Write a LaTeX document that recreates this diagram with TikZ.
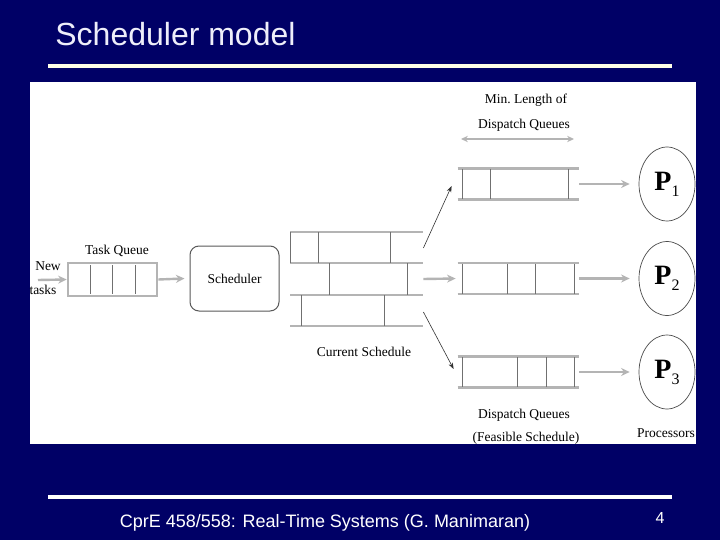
\documentclass[tikz,border=0pt]{standalone}
\usepackage{fontspec}
\setmainfont{Liberation Serif}
\setsansfont{Liberation Sans}
\usetikzlibrary{arrows.meta,shapes.geometric}
\definecolor{slidebg}{HTML}{000066}
\definecolor{titlefg}{HTML}{EEEEFA}
\definecolor{rulecream}{HTML}{FFFFE8}
\definecolor{qgray}{HTML}{B4B4B4}
\definecolor{qdark}{HTML}{707070}
\newcommand{\procname}[1]{\fontsize{28}{28}\selectfont\textbf{P}\raisebox{-6pt}{\fontsize{16}{16}\selectfont #1}}
\tikzset{
  qline/.style={line width=2.6pt,qgray},
  qdiv/.style={line width=1pt,qdark},
  qbox/.style={rectangle,draw=qgray,line width=2.6pt,inner sep=0pt},
  qarea/.style={rectangle,draw=none,inner sep=0pt},
  garrow/.style={line width=2.4pt,qgray,-{Stealth[length=3mm,width=2.8mm]}},
  karrow/.style={line width=0.6pt,black!80,-{Stealth[length=2.2mm,width=1.6mm]}},
  lbl/.style={font=\fontsize{13.5}{14}\selectfont,inner sep=0pt},
  proc/.style={ellipse,draw=black!70,line width=0.7pt,minimum width=56pt,minimum height=74pt,inner sep=0pt},
}
\begin{document}
\begin{tikzpicture}[x=1pt,y=-1pt,line width=0.8pt,>=Stealth]
% slide
\fill[slidebg] (0,0) rectangle (720,540);
\useasboundingbox (0,0) rectangle (720,540);
\node[anchor=base west,font=\sffamily\fontsize{32}{32}\selectfont,text=titlefg,inner sep=0pt] (title) at (55,46) {Scheduler model};
\draw[rulecream,line width=4pt] (48,66) -- (672,66);
\draw[white,line width=4pt] (48,497) -- (672,497);
\node[anchor=base,font=\sffamily\fontsize{18}{18}\selectfont,text=white,inner sep=0pt] (foot) at (325,527) {CprE 458/558: Real-Time Systems (G. Manimaran)};
\node[anchor=base,font=\sffamily\fontsize{16}{16}\selectfont,text=white,inner sep=0pt] (pageno) at (660,523) {4};
% figure panel
\fill[white] (30,82) rectangle (696,444);
% new tasks and task queue
\node[lbl] (newlbl) at (48,266) {New};
\node[lbl] (tasklbl) at (43,290) {tasks};
\coordinate (newin) at (38,280);
\node[qbox,minimum width=89pt,minimum height=33pt] (tq) at (112.5,279.5) {};
\foreach \x in {90,112,135}
  \draw[qdiv] (\x,265) -- (\x,294);
\node[lbl] (tqlbl) at (117,251) {Task Queue};
\draw[garrow] (newin) -- (tq.west);
% scheduler
\node[draw=black!65,rounded corners=9pt,line width=1pt,minimum width=89pt,minimum height=65pt,lbl] (sch) at (234.5,278.5) {Scheduler};
\draw[garrow] (tq.east) -- ([xshift=-5pt]sch.west);
% current schedule
\node[qarea,minimum width=133pt,minimum height=94pt] (cs) at (356.5,279) {};
\foreach \y in {232,263,295,326}
  \draw[qline] (290,\y) -- (423,\y);
\foreach \x in {290,318,390}
  \draw[qdiv] (\x,232) -- (\x,263);
\foreach \x in {329,407}
  \draw[qdiv] (\x,263) -- (\x,295);
\foreach \x in {301,384}
  \draw[qdiv] (\x,295) -- (\x,326);
\node[lbl] (cslbl) at (364,352) {Current Schedule};
% dispatch queues and processors
\foreach \i/\y/\divs in {1/184/{462,490,568},2/278.5/{462,507,535,574},3/372/{462,517,546,574}}{
  \node[qarea,minimum width=121pt,minimum height=30pt] (dq\i) at (518.5,\y) {};
  \draw[qline] (dq\i.north west) -- (dq\i.north east);
  \draw[qline] (dq\i.south west) -- (dq\i.south east);
  \foreach \x in \divs
    \draw[qdiv] (\x,{\y-15}) -- (\x,{\y+15});
  \node[proc] (p\i) at (667,\y) {\procname{\i}};
  \draw[garrow] (dq\i.east) -- ([xshift=-9pt]p\i.west);
}
\draw[karrow] ([yshift=31pt]cs.east) -- ([xshift=-6pt,yshift=-2pt]dq1.west);
\draw[garrow] (cs.east) -- ([xshift=-2pt]dq2.west);
\draw[karrow] ([yshift=-33pt]cs.east) -- ([xshift=-4pt,yshift=3pt]dq3.west);
% labels
\node[lbl] (minlbl) at (526,100) {Min.~Length of};
\node[lbl] (dqtop) at (524,125) {Dispatch Queues};
\coordinate (minl) at (461,139);
\coordinate (minr) at (574,139);
\draw[line width=1.8pt,qgray,{Stealth[length=2.4mm,width=2.2mm]}-{Stealth[length=2.4mm,width=2.2mm]}] (minl) -- (minr);
\node[lbl] (dqlbl) at (524,415) {Dispatch Queues};
\node[lbl] (feaslbl) at (526,438) {(Feasible Schedule)};
\node[lbl] (proclbl) at (666,433) {Processors};
\end{tikzpicture}
\end{document}
